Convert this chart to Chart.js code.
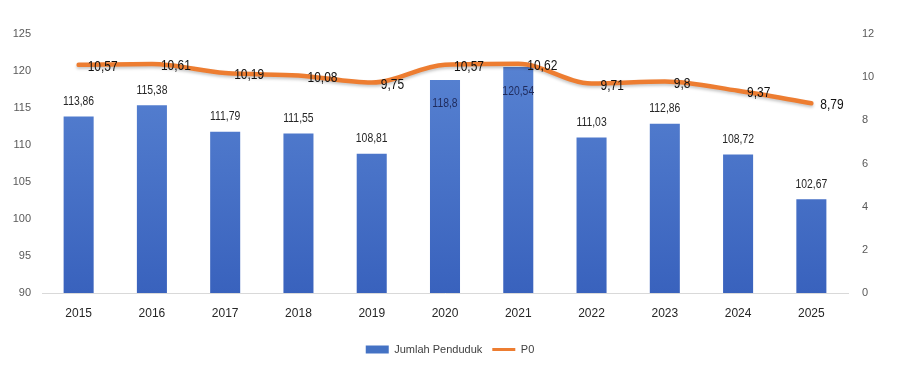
<!DOCTYPE html>
<html>
<head>
<meta charset="utf-8">
<script src="https://cdn.jsdelivr.net/npm/chart.js@4.4.1/dist/chart.umd.min.js"></script>
<style>
  html, body { margin: 0; padding: 0; background: #ffffff; }
  #wrap { width: 900px; height: 373px; position: relative; }
</style>
</head>
<body>
<div id="wrap"><canvas id="c" width="900" height="373"></canvas></div>
<script>
const categories = ['2015','2016','2017','2018','2019','2020','2021','2022','2023','2024','2025'];
const jumlahPenduduk = [113.86, 115.38, 111.79, 111.55, 108.81, 118.8, 120.54, 111.03, 112.86, 108.72, 102.67];
const p0 = [10.57, 10.61, 10.19, 10.08, 9.75, 10.57, 10.62, 9.71, 9.8, 9.37, 8.79];
const leftTicks = [90, 95, 100, 105, 110, 115, 120, 125];
const rightTicks = [0, 2, 4, 6, 8, 10, 12];

const FONT = "'Liberation Sans Narrow', 'Liberation Sans', 'DejaVu Sans Condensed', sans-serif";
const fmt = v => String(v).replace('.', ',');

// draws text horizontally condensed to mimic a narrow face
function narrowText(ctx, text, x, y, align, sx) {
  ctx.save();
  ctx.translate(x, y);
  ctx.scale(sx, 1);
  ctx.textAlign = align;
  ctx.fillText(text, 0, 0);
  ctx.restore();
}

const labelPlugin = {
  id: 'valueLabels',
  beforeDatasetDraw(chart, args) {
    if (args.index === 1) {
      const c = chart.ctx;
      c.save();
      c.shadowColor = 'rgba(0,0,0,0.22)';
      c.shadowBlur = 3;
      c.shadowOffsetY = 2;
    }
  },
  afterDatasetDraw(chart, args) {
    if (args.index === 1) chart.ctx.restore();
  },
  afterDatasetsDraw(chart) {
    const ctx = chart.ctx;
    ctx.save();
    const barMeta = chart.getDatasetMeta(0);
    ctx.font = "13px " + FONT;
    ctx.textBaseline = 'middle';
    barMeta.data.forEach((el, i) => {
      const v = jumlahPenduduk[i];
      if (v > 118) {
        ctx.fillStyle = '#1f2b5c';
        narrowText(ctx, fmt(v), el.x, el.y + 24, 'center', 0.8);
      } else {
        ctx.fillStyle = '#262626';
        narrowText(ctx, fmt(v), el.x, el.y - 15, 'center', 0.8);
      }
    });
    const lineMeta = chart.getDatasetMeta(1);
    ctx.font = "15px " + FONT;
    ctx.fillStyle = '#111111';
    lineMeta.data.forEach((el, i) => {
      narrowText(ctx, fmt(p0[i]), el.x + 9, el.y + 2, 'left', 0.8);
    });
    ctx.restore();
  }
};

const ctx = document.getElementById('c').getContext('2d');
new Chart(ctx, {
  data: {
    labels: categories,
    datasets: [
      {
        type: 'bar',
        label: 'Jumlah Penduduk',
        data: jumlahPenduduk,
        yAxisID: 'y',
        order: 2,
        backgroundColor: (c) => {
          const area = c.chart.chartArea;
          if (!area) return '#4472c4';
          const g = c.chart.ctx.createLinearGradient(0, area.top, 0, area.bottom);
          g.addColorStop(0, '#5b86d4');
          g.addColorStop(1, '#3962bd');
          return g;
        },
        borderWidth: 0,
        barPercentage: 0.41,
        categoryPercentage: 1.0
      },
      {
        type: 'line',
        label: 'P0',
        data: p0,
        yAxisID: 'y1',
        order: 1,
        borderColor: '#ed7d31',
        backgroundColor: '#ed7d31',
        borderWidth: 4.5,
        pointRadius: 0,
        tension: 0.4,
        cubicInterpolationMode: 'monotone',
        borderCapStyle: 'round'
      }
    ]
  },
  options: {
    responsive: false,
    animation: false,
    devicePixelRatio: 1,
    layout: { padding: { top: 34, bottom: 8, left: 0, right: 0 } },
    plugins: {
      tooltip: { enabled: false },
      legend: {
        position: 'bottom',
        labels: {
          font: { family: FONT, size: 11 },
          color: '#404040',
          usePointStyle: true,
          pointStyleWidth: 23,
          boxHeight: 8,
          padding: 10,
          generateLabels: (chart) => [
            { text: 'Jumlah Penduduk', fillStyle: '#4472c4', strokeStyle: '#4472c4', lineWidth: 0, pointStyle: 'rect', datasetIndex: 0, fontColor: '#404040' },
            { text: 'P0', fillStyle: '#ed7d31', strokeStyle: '#ed7d31', lineWidth: 3, pointStyle: 'line', datasetIndex: 1, fontColor: '#404040' }
          ]
        }
      }
    },
    scales: {
      x: {
        grid: { display: false, drawTicks: false },
        border: { display: true, color: '#d9d9d9', width: 1 },
        ticks: { font: { family: FONT, size: 12 }, color: '#262626', padding: 13, maxRotation: 0, autoSkip: false },
        afterFit: (s) => { s.height = 41; }
      },
      y: {
        position: 'left',
        min: 90, max: 125,
        afterBuildTicks: (s) => { s.ticks = leftTicks.map(v => ({ value: v })); },
        grid: { display: false, drawTicks: false },
        border: { display: false },
        ticks: { font: { family: FONT, size: 11 }, color: '#595959', padding: 11 },
        afterFit: (s) => { s.width = 42; }
      },
      y1: {
        position: 'right',
        min: 0, max: 12,
        afterBuildTicks: (s) => { s.ticks = rightTicks.map(v => ({ value: v })); },
        grid: { display: false, drawTicks: false },
        border: { display: false },
        ticks: { font: { family: FONT, size: 11 }, color: '#595959', padding: 14 },
        afterFit: (s) => { s.width = 52; }
      }
    }
  },
  plugins: [labelPlugin]
});
</script>
</body>
</html>
